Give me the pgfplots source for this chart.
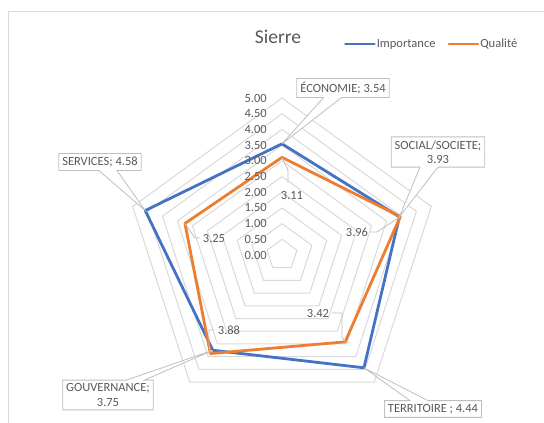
\documentclass[border=0pt]{standalone}
\usepackage{fontspec}
\setmainfont{Carlito}
\usepackage{pgfplots}
\pgfplotsset{compat=1.18}
\usepgfplotslibrary{polar}
\usetikzlibrary{shapes.callouts}
\definecolor{impblue}{HTML}{4472C4}
\definecolor{qualorange}{HTML}{ED7D31}
\definecolor{txtgray}{HTML}{595959}
\definecolor{gridgray}{HTML}{D9D9D9}
\definecolor{boxgray}{HTML}{BFBFBF}
\begin{document}
\begin{tikzpicture}[x=1pt,y=1pt,
  ticklab/.style={anchor=east, inner sep=0pt, xshift=-15pt, font=\fontsize{12.5}{14}\selectfont, text=txtgray},
  vlab/.style={inner sep=0pt, font=\fontsize{12.5}{14}\selectfont, text=txtgray},
  lead/.style={draw=boxgray, line width=0.8pt},
  cbox/.style={rectangle callout, draw=boxgray, line width=0.8pt, fill=white, text=txtgray,
     font=\fontsize{12.5}{14.5}\selectfont, inner xsep=3.5pt, inner ysep=3.5pt, align=center,
     callout pointer width=18pt}]
\path[use as bounding box] (0,0) rectangle (544,423);
\draw[gridgray, line width=0.9pt] (8.5,0) -- (8.5,411.5) -- (544,411.5);
\node[text=txtgray, font=\fontsize{19.5}{22}\selectfont, inner sep=0pt] at (278,386) {Sierre};
\begin{polaraxis}[
  at={(282pt,168pt)}, anchor=origin,
  scale only axis, width=314pt, height=314pt,
  xmin=0, xmax=360, ymin=0, ymax=5,
  hide axis, clip=false,
  legend columns=2,
  legend style={at={(0.975,1.172)}, anchor=center, draw=none, fill=none,
    nodes={inner sep=1pt, text=txtgray, font=\fontsize{12.5}{14}\selectfont},
    /tikz/every even column/.append style={column sep=11pt}},
  legend image code/.code={\draw[#1] (0pt,0pt) -- (29pt,0pt);},
]
\addplot[gridgray, line width=1pt, forget plot] coordinates {(90,0.5) (18,0.5) (306,0.5) (234,0.5) (162,0.5) (90,0.5)};
\addplot[gridgray, line width=1pt, forget plot] coordinates {(90,1.0) (18,1.0) (306,1.0) (234,1.0) (162,1.0) (90,1.0)};
\addplot[gridgray, line width=1pt, forget plot] coordinates {(90,1.5) (18,1.5) (306,1.5) (234,1.5) (162,1.5) (90,1.5)};
\addplot[gridgray, line width=1pt, forget plot] coordinates {(90,2.0) (18,2.0) (306,2.0) (234,2.0) (162,2.0) (90,2.0)};
\addplot[gridgray, line width=1pt, forget plot] coordinates {(90,2.5) (18,2.5) (306,2.5) (234,2.5) (162,2.5) (90,2.5)};
\addplot[gridgray, line width=1pt, forget plot] coordinates {(90,3.0) (18,3.0) (306,3.0) (234,3.0) (162,3.0) (90,3.0)};
\addplot[gridgray, line width=1pt, forget plot] coordinates {(90,3.5) (18,3.5) (306,3.5) (234,3.5) (162,3.5) (90,3.5)};
\addplot[gridgray, line width=1pt, forget plot] coordinates {(90,4.0) (18,4.0) (306,4.0) (234,4.0) (162,4.0) (90,4.0)};
\addplot[gridgray, line width=1pt, forget plot] coordinates {(90,4.5) (18,4.5) (306,4.5) (234,4.5) (162,4.5) (90,4.5)};
\addplot[gridgray, line width=1pt, forget plot] coordinates {(90,5.0) (18,5.0) (306,5.0) (234,5.0) (162,5.0) (90,5.0)};
\addplot[impblue, line width=2.8pt, line join=round, line cap=round] coordinates {(90,3.54) (18,3.93) (306,4.44) (234,3.75) (162,4.58) (90,3.54)};
\addplot[qualorange, line width=2.8pt, line join=round, line cap=round] coordinates {(90,3.11) (18,3.96) (306,3.42) (234,3.88) (162,3.25) (90,3.11)};
\legend{Importance, Qualité}
\coordinate (iE) at (axis cs:90,3.54);
\coordinate (iS) at (axis cs:18,3.93);
\coordinate (iT) at (axis cs:306,4.44);
\coordinate (iG) at (axis cs:234,3.75);
\coordinate (iV) at (axis cs:162,4.58);
\coordinate (qE) at (axis cs:90,3.11);
\coordinate (qS) at (axis cs:18,3.96);
\coordinate (qT) at (axis cs:306,3.42);
\coordinate (qG) at (axis cs:234,3.88);
\coordinate (qV) at (axis cs:162,3.25);
\node[ticklab] at (axis cs:90,0) {0.00};
\node[ticklab] at (axis cs:90,0.5) {0.50};
\node[ticklab] at (axis cs:90,1.0) {1.00};
\node[ticklab] at (axis cs:90,1.5) {1.50};
\node[ticklab] at (axis cs:90,2.0) {2.00};
\node[ticklab] at (axis cs:90,2.5) {2.50};
\node[ticklab] at (axis cs:90,3.0) {3.00};
\node[ticklab] at (axis cs:90,3.5) {3.50};
\node[ticklab] at (axis cs:90,4.0) {4.00};
\node[ticklab] at (axis cs:90,4.5) {4.50};
\node[ticklab] at (axis cs:90,5.0) {5.00};
\end{polaraxis}
% Qualité labels with leader lines
\draw[lead] (qE) -- (288,253) -- (288,240);
\node[vlab] at (292,228) {3.11};
\draw[lead] (370,191) -- (377,191) -- (qS);
\node[vlab] at (357,191) {3.96};
\draw[lead] (332,110) -- (342,110) -- (342,86) -- (qT);
\node[vlab] at (318,110) {3.42};
\draw[lead] (214,93) -- (209,93) -- (209,78) -- (qG);
\node[vlab] at (229,93) {3.88};
\draw[lead] (200,185) -- (195,185) -- (qV);
\node[vlab] at (214,185) {3.25};
% Importance callouts
\node[cbox, callout absolute pointer={(iE)}] at (343,335) {ÉCONOMIE; 3.54};
\node[cbox, callout absolute pointer={(iS)}] at (438,271) {SOCIAL/SOCIETE;\\3.93};
\node[cbox, callout absolute pointer={(iV)}] at (100,261) {SERVICES; 4.58};
\node[cbox, callout absolute pointer={(iG)}] at (108,28) {GOUVERNANCE;\\3.75};
\node[cbox, callout absolute pointer={(iT)}] at (433,14) {TERRITOIRE ; 4.44};
\end{tikzpicture}
\end{document}
